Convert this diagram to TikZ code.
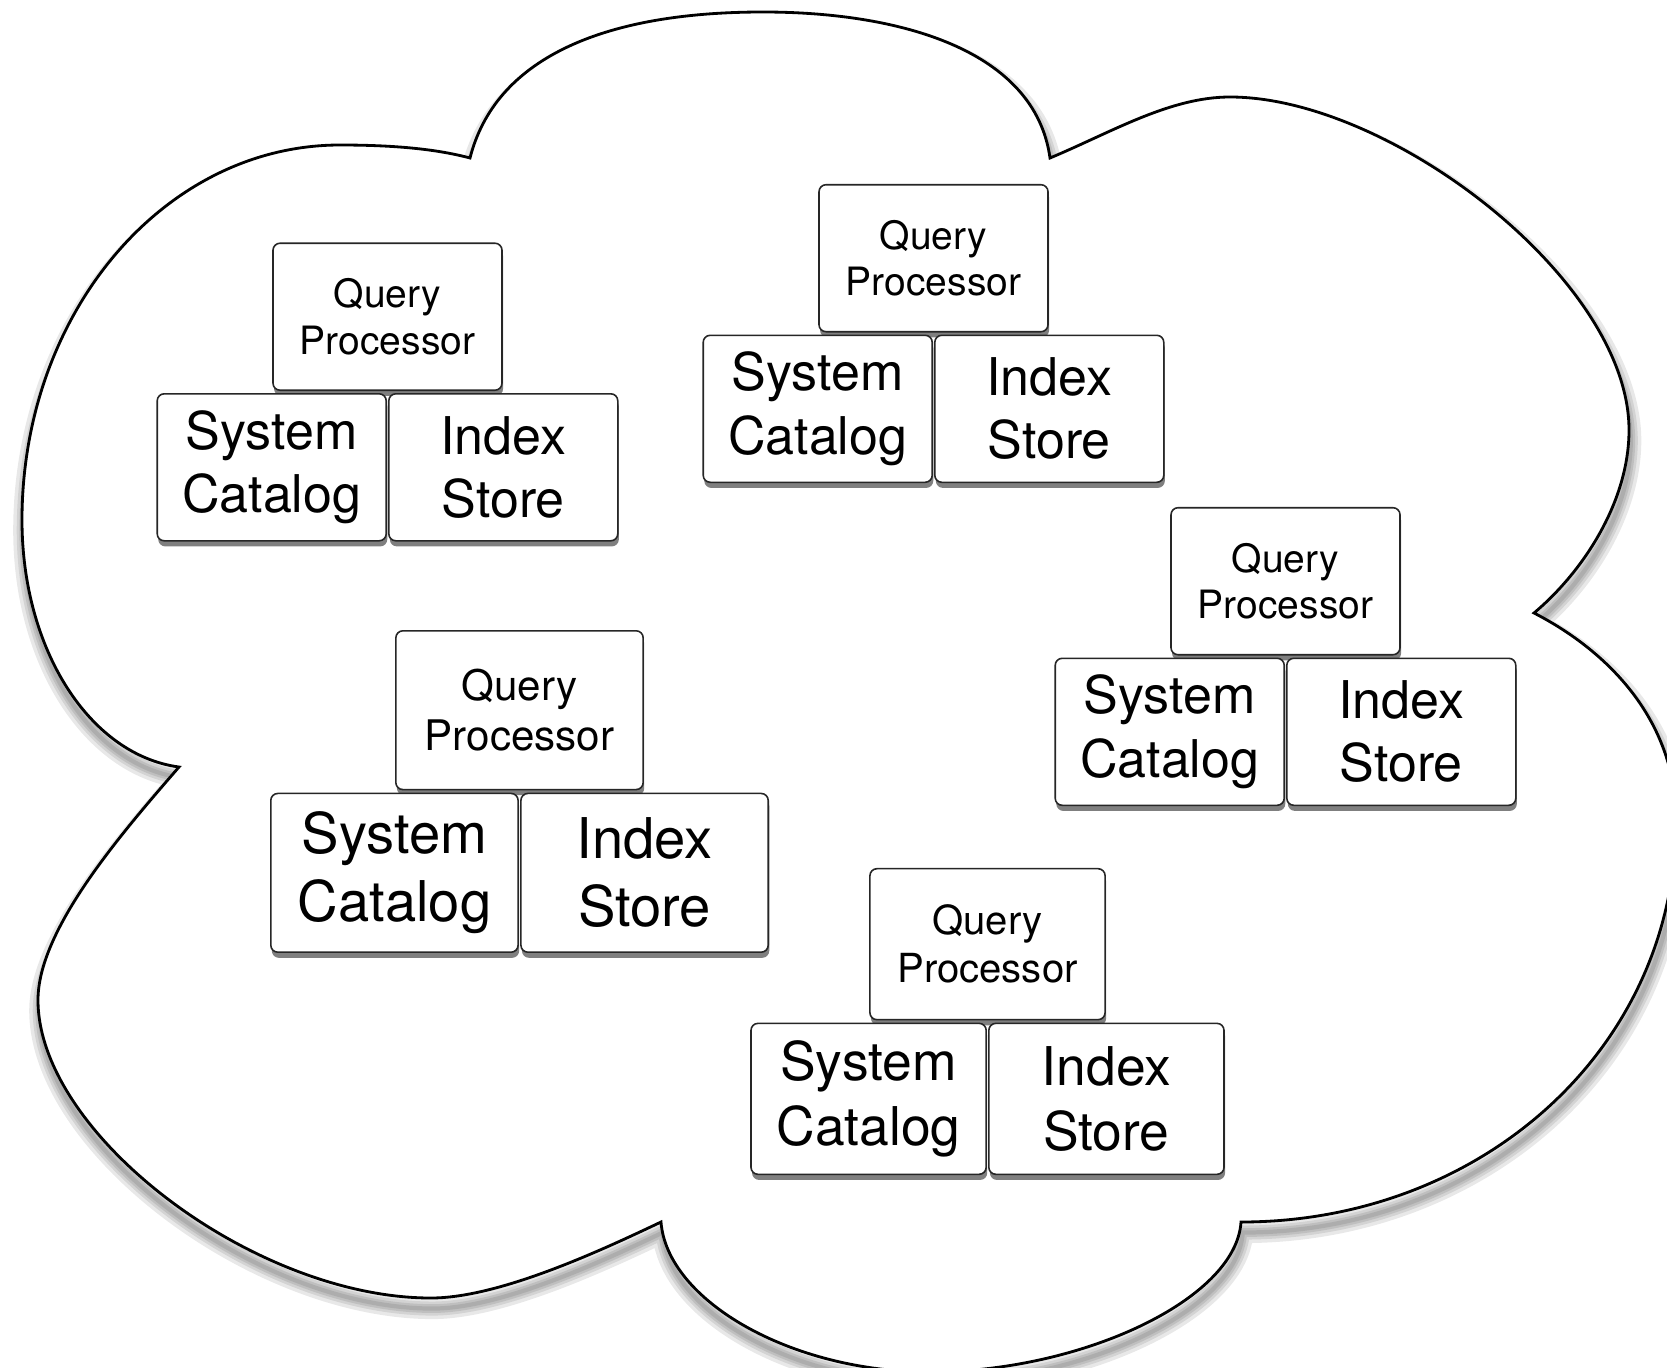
\documentclass[tikz,border=0pt]{standalone}
\usepackage{fontspec}
\setmainfont{TeX Gyre Heros}
\usetikzlibrary{shadows}
\newcommand{\bigText}{\fontsize{14.8}{18}\selectfont}
\newcommand{\smallText}{\fontsize{11.1}{13.3}\selectfont}
\newcommand{\cloudPath}{%%
  (cuspA) .. controls (495,60) and (600,12) .. (763,12)
  .. controls (900,12) and (1035,50) .. (cuspB)
  .. controls (1112,132) and (1170,97) .. (1230,97)
  .. controls (1390,97) and (1629,280) .. (1629,430)
  .. controls (1629,500) and (1585,570) .. (cuspC)
  .. controls (1608,651) and (1676,720) .. (1676,820)
  .. controls (1676,1050) and (1480,1222) .. (cuspD)
  .. controls (1236,1300) and (1080,1372) .. (930,1372)
  .. controls (790,1372) and (667,1300) .. (cuspE)
  .. controls (604,1249) and (500,1298) .. (431,1298)
  .. controls (254,1298) and (38,1134) .. (38,1000)
  .. controls (38,930) and (120,835) .. (cuspF)
  .. controls (90,755) and (22,650) .. (22,520)
  .. controls (22,313) and (164,145) .. (340,145)
  .. controls (400,145) and (440,150) .. (cuspA) -- cycle
}
\newcommand{\dbStack}[3]{%%
  %% Query processor sitting on catalog and index store.
  \begin{scope}[shift={(#2)},scale=#3,transform shape]
    \node[queryStyle,anchor=south] (qp#1) at (0,-1) {Query\\Processor};
    \node[partStyle,anchor=north east] (sc#1) at (-0.5,1) {System\\Catalog};
    \node[partStyle,anchor=north west] (is#1) at (0.5,1) {Index\\Store};
  \end{scope}
}

\begin{document}
\begin{tikzpicture}[%%
  x=0.1mm,y=-0.1mm,%%
  cloudStyle/.style={draw=black,line width=0.8pt,fill=white},%%
  boxStyle/.style={draw=black!85,line width=0.45pt,rounded corners=2pt,fill=white,%%
    inner sep=0pt,align=center,minimum width=22.9mm,minimum height=14.7mm,%%
    drop shadow={shadow xshift=0.3pt,shadow yshift=-1.6pt,fill=black,opacity=.5}},%%
  queryStyle/.style={boxStyle,font=\smallText},%%
  partStyle/.style={boxStyle,font=\bigText}
]
\clip (0,0) rectangle (1667,1367);
\fill[white] (0,0) rectangle (1667,1367);
%% The cusps of the cloud.
\coordinate (cuspA) at (470,158);
\coordinate (cuspB) at (1050,158);
\coordinate (cuspC) at (1534,613);
\coordinate (cuspD) at (1241,1222);
\coordinate (cuspE) at (661,1222);
\coordinate (cuspF) at (179,767);
%%
%% Soft shadow, then the cloud itself.
\foreach \w in {6,4,2.5,1.2}
  \path[draw=black,opacity=.09,line width=\w pt,transform canvas={xshift=0.5pt,yshift=-3pt}] \cloudPath;
\path[cloudStyle] \cloudPath;
%%
%% The five stacks.
\dbStack{One}{387.5,392}{1}
\dbStack{Two}{933.5,333.5}{1}
\dbStack{Three}{1285.5,656.5}{1}
\dbStack{Four}{519.5,791.5}{1.08}
\dbStack{Five}{987.5,1021.5}{1.027}
\end{tikzpicture}
\end{document}
